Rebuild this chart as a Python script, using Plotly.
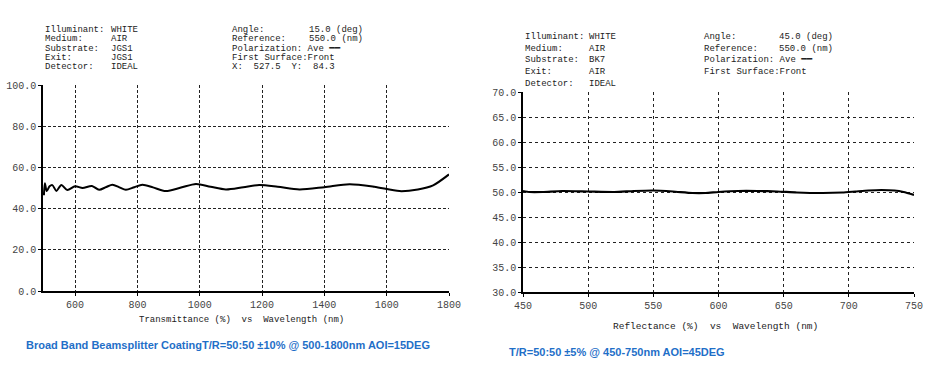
import plotly.graph_objects as go

# ---- data: left chart (Transmittance, AOI 15 deg) ----
wl_left = [500, 503, 509, 518, 527, 540, 556, 575, 600, 624, 654, 677, 700, 720, 742, 763, 790, 816,
           850, 891, 940, 988, 1035, 1084, 1140, 1191, 1250, 1320, 1400, 1481, 1560, 1641, 1700, 1749, 1800]
t_left = [46.5, 52.3, 48.5, 50.8, 51.4, 48.6, 51.5, 49.0, 50.8, 50.0, 51.0, 49.1, 50.5, 51.6, 50.3, 49.1,
          50.4, 51.6, 50.3, 48.5, 50.2, 52.0, 50.6, 49.3, 50.4, 51.4, 50.6, 49.3, 50.4, 51.8, 50.6, 48.5,
          49.3, 51.3, 56.6]

# ---- data: right chart (Reflectance, AOI 45 deg) ----
wl_right = [450, 455, 465, 480, 500, 520, 535, 550, 565, 580, 590, 600, 615, 630, 645, 660, 680, 695,
            705, 715, 725, 735, 742, 750]
r_right = [50.2, 50.0, 50.0, 50.2, 50.1, 50.0, 50.2, 50.3, 50.1, 49.8, 49.8, 50.0, 50.2, 50.2, 50.1,
           49.9, 49.8, 49.9, 50.1, 50.3, 50.4, 50.3, 50.0, 49.4]

left_xticks = [600, 800, 1000, 1200, 1400, 1600, 1800]
left_yticks = [0, 20, 40, 60, 80, 100]
right_xticks = [450, 500, 550, 600, 650, 700, 750]
right_yticks = [30, 35, 40, 45, 50, 55, 60, 65, 70]

left_header = [("Illuminant:", "WHITE", "Angle:", "15.0 (deg)"),
               ("Medium:", "AIR", "Reference:", "550.0 (nm)"),
               ("Substrate:", "JGS1", "Polarization: Ave ━━", ""),
               ("Exit:", "JGS1", "First Surface:Front", ""),
               ("Detector:", "IDEAL", "X:  527.5  Y:  84.3", "")]
right_header = [("Illuminant:", "WHITE", "Angle:", "45.0 (deg)"),
                ("Medium:", "AIR", "Reference:", "550.0 (nm)"),
                ("Substrate:", "BK7", "Polarization: Ave ━━", ""),
                ("Exit:", "AIR", "First Surface:Front", ""),
                ("Detector:", "IDEAL", "", "")]

W, H = 944, 378
MONO = "Liberation Mono, DejaVu Sans Mono, monospace"

fig = go.Figure()
fig.add_trace(go.Scatter(x=wl_left, y=t_left, mode="lines", line=dict(color="black", width=2, shape="spline", smoothing=0.8),
                         xaxis="x", yaxis="y", showlegend=False))
fig.add_trace(go.Scatter(x=wl_right, y=r_right, mode="lines", line=dict(color="black", width=2.2, shape="spline", smoothing=0.6),
                         xaxis="x2", yaxis="y2", showlegend=False))

def px(x):
    return x / W

def py(y):
    return 1 - y / H

common = dict(showline=True, linecolor="black", linewidth=1.5, ticks="outside", ticklen=3, tickcolor="black",
              gridcolor="#222", gridwidth=1, zeroline=False, tickfont=dict(family=MONO, size=10, color="#444"),
              mirror=False, automargin=False)

fig.update_layout(
    width=W, height=H, margin=dict(l=0, r=0, t=0, b=0, autoexpand=False),
    paper_bgcolor="white", plot_bgcolor="white",
    xaxis=dict(domain=[px(43), px(449)], range=[497, 1800], tickvals=left_xticks, anchor="y",
               griddash="3px,2px", **common),
    yaxis=dict(domain=[py(291), py(85)], range=[0, 100], tickvals=left_yticks, tickformat=".1f", anchor="x",
               griddash="3px,2px", **common),
    xaxis2=dict(domain=[px(523), px(914)], range=[450, 750], tickvals=right_xticks, anchor="y2",
                griddash="dot", **common),
    yaxis2=dict(domain=[py(292), py(92)], range=[30, 70], tickvals=right_yticks, tickformat=".1f", anchor="x2",
                griddash="dot", **common),
)

# header texts
def add_header(rows, x_cols, y0, dy, size):
    for i, row in enumerate(rows):
        for j, txt in enumerate(row):
            if not txt:
                continue
            fig.add_annotation(x=px(x_cols[j]), y=py(y0 + i * dy), xref="paper", yref="paper", text=txt,
                               showarrow=False, xanchor="left", yanchor="middle",
                               font=dict(family=MONO, size=size, color="#222"))

add_header(left_header, [43, 109, 230, 307], 30, 9.3, 9)
add_header(right_header, [523, 587, 702, 777], 37.5, 11.5, 9)

# axis titles
fig.add_annotation(x=px(242), y=py(320), xref="paper", yref="paper", text="Transmittance (%)  vs  Wavelength (nm)",
                   showarrow=False, xanchor="center", yanchor="middle", font=dict(family=MONO, size=9, color="#222"))
fig.add_annotation(x=px(715), y=py(326), xref="paper", yref="paper", text="Reflectance (%)  vs  Wavelength (nm)",
                   showarrow=False, xanchor="center", yanchor="middle", font=dict(family=MONO, size=9.5, color="#222"))

# captions
fig.add_annotation(x=px(24), y=py(345), xref="paper", yref="paper",
                   text="<b>Broad Band Beamsplitter CoatingT/R=50:50 ±10% @ 500-1800nm AOI=15DEG</b>",
                   showarrow=False, xanchor="left", yanchor="middle",
                   font=dict(family="Liberation Sans, Arial", size=11, color="#1f6fc8"))
fig.add_annotation(x=px(507), y=py(352), xref="paper", yref="paper",
                   text="<b>T/R=50:50 ±5% @ 450-750nm AOI=45DEG</b>",
                   showarrow=False, xanchor="left", yanchor="middle",
                   font=dict(family="Liberation Sans, Arial", size=11, color="#1f6fc8"))

fig.write_html("out.html", config={"displayModeBar": False},
               post_script="document.body.style.margin='0';document.body.style.padding='0';")
